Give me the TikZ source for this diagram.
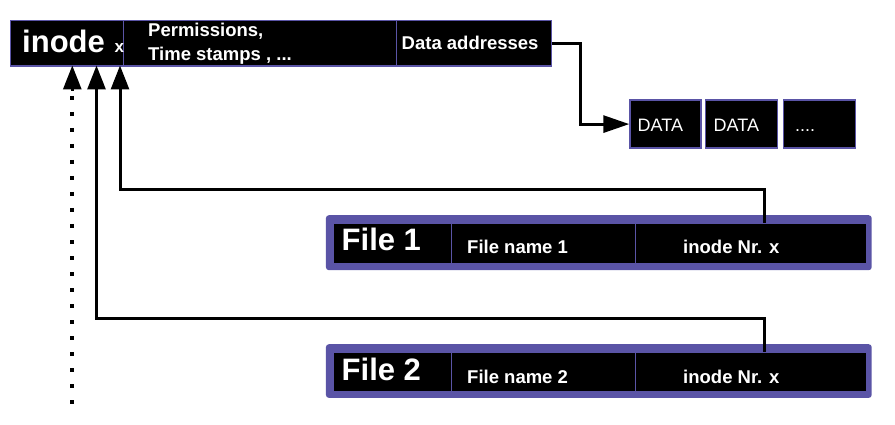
\documentclass[tikz,border=0pt]{standalone}
\usepackage{fontspec}
\setmainfont{Liberation Sans}
\usetikzlibrary{arrows.meta}
\definecolor{pur}{RGB}{90,84,166}
\begin{document}
\begin{tikzpicture}[x=1pt,y=-1pt,
  cell/.style={draw=pur, line width=1.2pt, fill=black, inner sep=0pt, anchor=north west},
  outerbox/.style={fill=pur, rounded corners=3pt, inner sep=0pt, anchor=north west},
  lbl/.style={text=white, font=\bfseries\fontsize{18.5}{20}\selectfont, anchor=base west, inner sep=0pt},
  big/.style={lbl, font=\bfseries\fontsize{31}{31}\selectfont},
  dlbl/.style={lbl, font=\fontsize{18}{20}\selectfont},
  conn/.style={line width=3pt, black},
  uptip/.style={-{Triangle[length=24pt,width=18pt]}}
]
\useasboundingbox (0,0) rectangle (895,425);

% inode bar
\node[cell, minimum width=113.5, minimum height=45.5] (ic) at (9.5,20) {};
\node[cell, minimum width=273, minimum height=45.5] (pc) at (123,20) {};
\node[cell, minimum width=154.5, minimum height=45.5] (dc) at (396,20) {};
\node[big] (tinode) at (22,52.5) {inode};
\node[lbl, font=\bfseries\fontsize{17}{18}\selectfont] (tx) at (114.5,52.5) {x};
\node[lbl] (tperm) at (148,37) {Permissions,};
\node[lbl] (ttime) at (148,60.5) {Time stamps , ...};
\node[lbl] (tdata) at (401.5,49.5) {Data addresses};

% DATA blocks
\node[cell, minimum width=71, minimum height=48] (d1) at (629.3,99.5) {};
\node[cell, minimum width=71.5, minimum height=48] (d2) at (705,99.5) {};
\node[cell, minimum width=72.5, minimum height=48] (d3) at (782.7,99.5) {};
\node[dlbl] (td1) at (637.5,131.5) {DATA};
\node[dlbl] (td2) at (713.5,131.5) {DATA};
\node[dlbl] (td3) at (795,131.5) {....};

% File 1
\node[outerbox, minimum width=545.8, minimum height=55] (f1) at (325.7,215) {};
\node[cell, minimum width=118, minimum height=40] (f1a) at (332.7,222.7) {};
\node[cell, minimum width=184.3, minimum height=40] (f1b) at (450.7,222.7) {};
\node[cell, minimum width=231, minimum height=40] (f1c) at (635,222.7) {};
\node[big] (tf1) at (341.5,251) {File 1};
\node[lbl] (tf1n) at (467,254) {File name 1};
\node[lbl] (tf1i) at (683,254) {inode Nr. x};

% File 2
\node[outerbox, minimum width=545.8, minimum height=53.7] (f2) at (325.7,344) {};
\node[cell, minimum width=118, minimum height=39.3] (f2a) at (332.7,351.7) {};
\node[cell, minimum width=184.3, minimum height=39.3] (f2b) at (450.7,351.7) {};
\node[cell, minimum width=231, minimum height=39.3] (f2c) at (635,351.7) {};
\node[big] (tf2) at (341.5,380) {File 2};
\node[lbl] (tf2n) at (467,383) {File name 2};
\node[lbl] (tf2i) at (683,383) {inode Nr. x};

% connector to data
\draw[conn, -{Triangle[length=26pt,width=17pt]}] (dc.east) -- ++(28.5,0) |- (d1.west);

% up connectors
\coordinate (s1) at (764.5,222.7);
\coordinate (e1) at (120,65.5);
\coordinate (s2) at (764.5,351.7);
\coordinate (e2) at (96.5,65.5);
\coordinate (s3) at (72.3,90.7);
\coordinate (e3) at (72.3,65.5);
\coordinate (dtop) at (72.3,96);
\coordinate (dbot) at (72.3,405);
\draw[conn, uptip] (s1) -- (764.5,190) -| (e1);
\draw[conn, uptip] (s2) -- (764.5,318) -| (e2);
\draw[conn, uptip] (s3) -- (e3);
\draw[line width=4pt, dash pattern=on 4pt off 12pt] (dtop) -- (dbot);
\end{tikzpicture}
\end{document}
